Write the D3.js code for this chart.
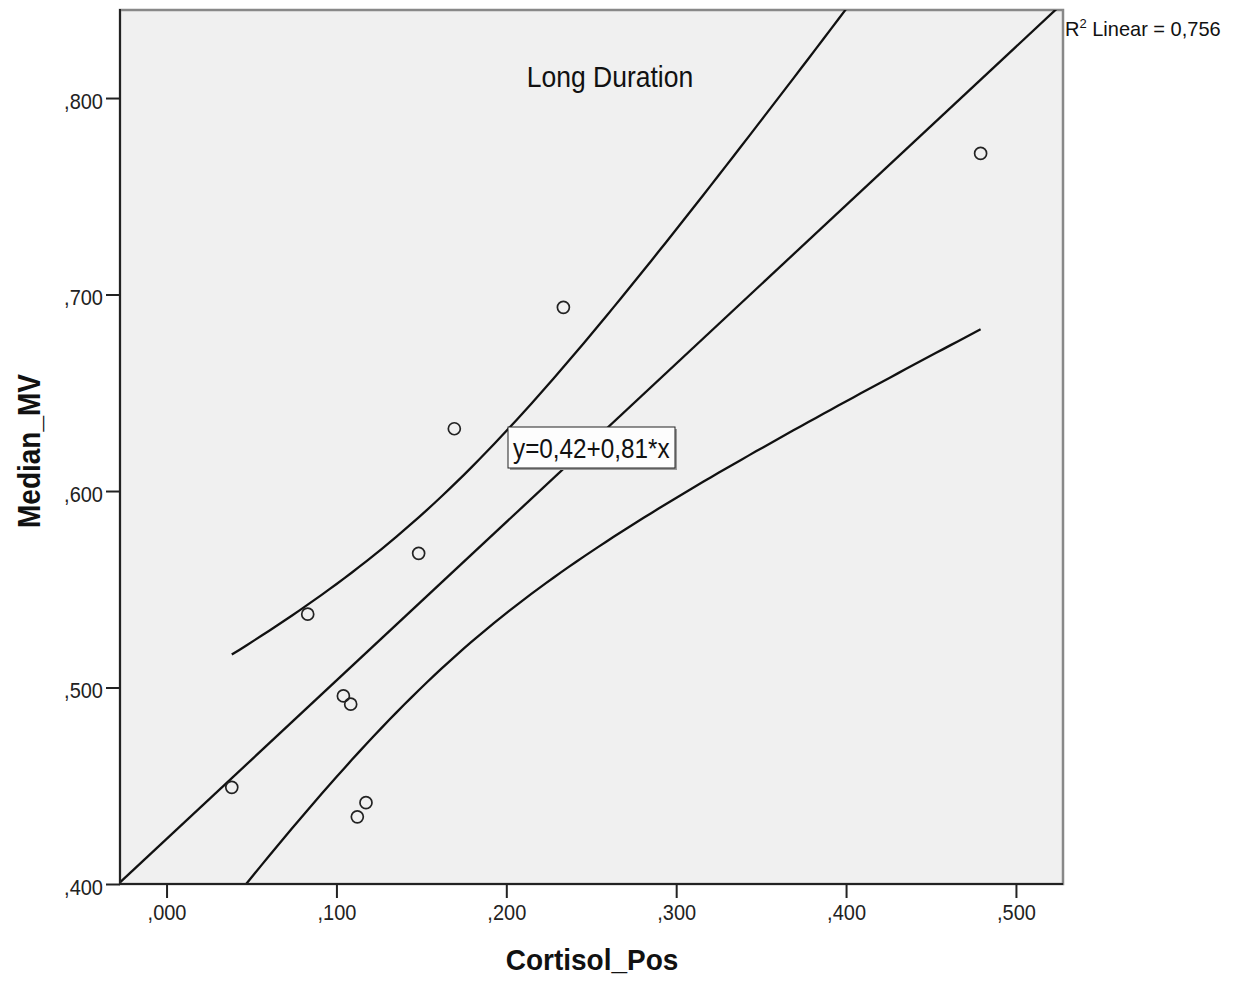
<!DOCTYPE html>
<html><head><meta charset="utf-8">
<script src="https://cdn.jsdelivr.net/npm/d3@7"></script>
<style>body{margin:0;background:#fff}svg{display:block}</style>
</head><body>
<script>
// ---- data ----
const cortisolPos = [0.0384, 0.0831, 0.1041, 0.1084, 0.1123, 0.1174, 0.1484, 0.1694, 0.2336, 0.4792];
const medianMV    = [0.4492, 0.5373, 0.4957, 0.4915, 0.4342, 0.4414, 0.5683, 0.6317, 0.6935, 0.7718];
const xTicks = [0, 0.1, 0.2, 0.3, 0.4, 0.5];
const yTicks = [0.4, 0.5, 0.6, 0.7, 0.8];
const xDomain = [-0.0274, 0.5277];
const yDomain = [0.4, 0.8448];
const title = "Long Duration";
const xTitle = "Cortisol_Pos";
const yTitle = "Median_MV";
const equation = "y=0,42+0,81*x";
const r2Text = ["R", "2", " Linear = 0,756"];
const tCrit = 2.306; // t(0.975, df=8)

const W = 1236, H = 981;
const L = 120, R = 1063, T = 10, B = 884;
const SY = 1.12;
const FONT = "'Liberation Sans', Arial, sans-serif";

const svg = d3.select("body").append("svg").attr("width", W).attr("height", H);
const x = d3.scaleLinear().domain(xDomain).range([L, R]);
const y = d3.scaleLinear().domain(yDomain).range([B, T]);

// plot background
svg.append("rect").attr("x", L).attr("y", T).attr("width", R - L).attr("height", B - T)
  .attr("fill", "#f0f0f0").attr("stroke", "#888").attr("stroke-width", 2.5);

// clip
svg.append("clipPath").attr("id", "clip").append("rect")
  .attr("x", L).attr("y", T).attr("width", R - L).attr("height", B - T);

// regression
const n = cortisolPos.length;
const mx = d3.mean(cortisolPos), my = d3.mean(medianMV);
let sxx = 0, sxy = 0;
for (let i = 0; i < n; i++) { sxx += (cortisolPos[i]-mx)**2; sxy += (cortisolPos[i]-mx)*(medianMV[i]-my); }
const slope = sxy / sxx, intercept = my - slope * mx;
let sse = 0;
for (let i = 0; i < n; i++) sse += (medianMV[i] - intercept - slope*cortisolPos[i])**2;
const s = Math.sqrt(sse / (n - 2));

const plot = svg.append("g").attr("clip-path", "url(#clip)");
const lineColor = "#111";
// fit line across full domain
plot.append("line")
  .attr("x1", x(xDomain[0])).attr("y1", y(intercept + slope*xDomain[0]))
  .attr("x2", x(xDomain[1])).attr("y2", y(intercept + slope*xDomain[1]))
  .attr("stroke", lineColor).attr("stroke-width", 2.3);

// CI curves from min to max x
const xmin = d3.min(cortisolPos), xmax = d3.max(cortisolPos);
const steps = d3.range(0, 101).map(i => xmin + (xmax - xmin) * i / 100);
const hw = xv => tCrit * s * Math.sqrt(1/n + (xv - mx)**2 / sxx);
const line = d3.line().x(d => x(d[0])).y(d => y(d[1]));
plot.append("path").datum(steps.map(v => [v, intercept + slope*v + hw(v)]))
  .attr("d", line).attr("fill", "none").attr("stroke", lineColor).attr("stroke-width", 2.3);
plot.append("path").datum(steps.map(v => [v, intercept + slope*v - hw(v)]))
  .attr("d", line).attr("fill", "none").attr("stroke", lineColor).attr("stroke-width", 2.3);

// points
plot.selectAll("circle.pt").data(cortisolPos.map((v, i) => [v, medianMV[i]])).join("circle")
  .attr("class", "pt").attr("cx", d => x(d[0])).attr("cy", d => y(d[1])).attr("r", 6)
  .attr("fill", "none").attr("stroke", "#222").attr("stroke-width", 1.7);

// left & bottom axis lines
svg.append("line").attr("x1", L).attr("x2", L).attr("y1", T - 1).attr("y2", B + 1)
  .attr("stroke", "#222").attr("stroke-width", 2);
svg.append("line").attr("x1", L - 1).attr("x2", R).attr("y1", B).attr("y2", B)
  .attr("stroke", "#222").attr("stroke-width", 2);

const fmt = v => d3.format(".3f")(v).replace(/^0\./, ",");

// axes
const gx = svg.append("g").attr("transform", `translate(0,${B})`)
  .call(d3.axisBottom(x).tickValues(xTicks).tickSize(14).tickFormat(fmt));
gx.select(".domain").remove();
gx.selectAll(".tick line").attr("stroke", "#222").attr("stroke-width", 2);
gx.selectAll(".tick text").attr("y", 36 / SY).attr("dy", 0)
  .attr("transform", `scale(1,${SY})`)
  .attr("font-family", FONT).attr("font-size", 20).attr("fill", "#222");

const gy = svg.append("g").attr("transform", `translate(${L},0)`)
  .call(d3.axisLeft(y).tickValues(yTicks).tickSize(14).tickFormat(fmt));
gy.select(".domain").remove();
gy.selectAll(".tick line").attr("stroke", "#222").attr("stroke-width", 2);
gy.selectAll(".tick text").attr("x", -17).attr("y", 10 / SY).attr("dy", 0)
  .attr("transform", `scale(1,${SY})`)
  .attr("font-family", FONT).attr("font-size", 20).attr("fill", "#222");

// stretched text helper
function stext(px, py, str, size, anchor, weight, sy, rot) {
  const g = svg.append("g").attr("transform", `translate(${px},${py})${rot ? ` rotate(${rot})` : ""} scale(1,${sy})`);
  return g.append("text").text(str).attr("font-family", FONT).attr("font-size", size)
    .attr("text-anchor", anchor).attr("font-weight", weight).attr("fill", "#111");
}

// title inside plot
stext(610, 87, title, 26.5, "middle", "normal", 1.13);

// axis titles
stext(592, 970, xTitle, 28, "middle", "bold", 1.05);
svg.append("g").attr("transform", `translate(40,451) rotate(-90) scale(1.0,1.15)`)
  .append("text").text(yTitle).attr("font-family", FONT).attr("font-size", 28)
  .attr("text-anchor", "middle").attr("font-weight", "bold").attr("fill", "#111");

// equation box
const bx = 508, by = 427, bw = 167, bh = 41;
svg.append("rect").attr("x", bx + 2).attr("y", by + 2).attr("width", bw).attr("height", bh).attr("fill", "#999");
svg.append("rect").attr("x", bx).attr("y", by).attr("width", bw).attr("height", bh)
  .attr("fill", "#fdfdfd").attr("stroke", "#222").attr("stroke-width", 1);
stext(bx + 5, 458, equation, 24.3, "start", "normal", 1.15);

// R² label
const r2 = svg.append("g").attr("transform", `translate(1065,36) scale(1,1.05)`).append("text")
  .attr("font-family", FONT).attr("font-size", 20).attr("fill", "#111");
r2.append("tspan").text(r2Text[0]);
r2.append("tspan").text(r2Text[1]).attr("font-size", 13).attr("dy", -8);
r2.append("tspan").text(r2Text[2]).attr("dy", 8);
</script>
</body></html>
